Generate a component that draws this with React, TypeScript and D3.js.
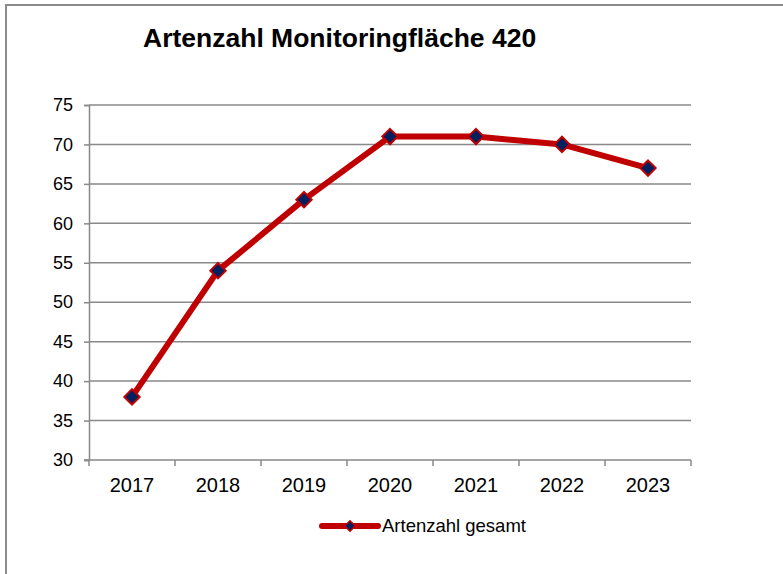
import { useEffect, useRef } from "react";
import * as d3 from "d3";

// ---- data ----
const years = ["2017", "2018", "2019", "2020", "2021", "2022", "2023"];
const artenzahl = [38, 54, 63, 71, 71, 70, 67];
const yTicks = [30, 35, 40, 45, 50, 55, 60, 65, 70, 75];
const title = "Artenzahl Monitoringfläche 420";
const seriesName = "Artenzahl gesamt";

const W = 783;
const H = 574;
const LINE = "#C00000";
const MARKER = "#002060";
const GRID = "#898989";
const FONT = "Liberation Sans, Arial, sans-serif";

export default function App() {
  const svgRef = useRef<SVGSVGElement>(null);

  useEffect(() => {
    const svg = d3.select(svgRef.current);
    svg.selectAll("*").remove();

    const plot = { left: 89, right: 691, top: 105, bottom: 460 };

    // outer chart border (only top/left visible in reference)
    svg.append("rect")
      .attr("x", 6).attr("y", 5)
      .attr("width", W + 10).attr("height", H)
      .attr("fill", "white").attr("stroke", "#8c8c8c").attr("stroke-width", 2);

    svg.append("text")
      .attr("x", 143).attr("y", 47)
      .attr("font-family", FONT)
      .attr("font-weight", "bold").attr("font-size", 26.5)
      .attr("fill", "#000")
      .text(title);

    const x = d3.scaleBand().domain(years).range([plot.left, plot.right]);
    const y = d3.scaleLinear().domain([30, 75]).range([plot.bottom, plot.top]);

    // horizontal gridlines
    svg.append("g").selectAll("line")
      .data(yTicks.filter(t => t !== 30))
      .join("line")
      .attr("x1", plot.left).attr("x2", plot.right)
      .attr("y1", d => y(d)).attr("y2", d => y(d))
      .attr("stroke", GRID).attr("stroke-width", 1.5);

    // y axis
    const yAxis = svg.append("g")
      .attr("transform", `translate(${plot.left},0)`)
      .call(d3.axisLeft(y).tickValues(yTicks).tickSize(5).tickPadding(11).tickFormat(d3.format("d")));
    yAxis.select(".domain").attr("stroke", GRID).attr("stroke-width", 1.5);
    yAxis.selectAll(".tick line").attr("stroke", GRID).attr("stroke-width", 1.5);
    yAxis.selectAll(".tick text")
      .attr("font-family", FONT)
      .attr("font-size", 18).attr("fill", "#000");

    // x axis with ticks on band boundaries
    const xAxisG = svg.append("g").attr("transform", `translate(0,${plot.bottom})`);
    xAxisG.append("line")
      .attr("x1", plot.left - 5).attr("x2", plot.right)
      .attr("stroke", GRID).attr("stroke-width", 1.5);
    const bounds = years.map(d => x(d)!).concat([plot.right]);
    xAxisG.selectAll("line.tk")
      .data(bounds)
      .join("line")
      .attr("class", "tk")
      .attr("x1", d => d).attr("x2", d => d)
      .attr("y1", 0).attr("y2", 6)
      .attr("stroke", GRID).attr("stroke-width", 1.5);
    xAxisG.selectAll("text")
      .data(years)
      .join("text")
      .attr("x", d => x(d)! + x.bandwidth() / 2)
      .attr("y", 32)
      .attr("text-anchor", "middle")
      .attr("font-family", FONT)
      .attr("font-size", 20).attr("fill", "#000")
      .text(d => d);

    // series line
    const pts = years.map((yr, i) => ({ x: x(yr)! + x.bandwidth() / 2, y: y(artenzahl[i]) }));
    svg.append("path")
      .datum(pts)
      .attr("fill", "none")
      .attr("stroke", LINE).attr("stroke-width", 6)
      .attr("stroke-linejoin", "round").attr("stroke-linecap", "round")
      .attr("d", d3.line<{ x: number; y: number }>().x(d => d.x).y(d => d.y));

    const diamond = d3.symbol().type(d3.symbolDiamond2).size(150);
    svg.selectAll("path.mk")
      .data(pts)
      .join("path")
      .attr("class", "mk")
      .attr("transform", d => `translate(${d.x},${d.y})`)
      .attr("d", diamond)
      .attr("fill", MARKER).attr("stroke", LINE).attr("stroke-width", 2);

    // legend
    const lg = svg.append("g").attr("transform", "translate(0,526)");
    lg.append("line")
      .attr("x1", 322).attr("x2", 378)
      .attr("stroke", LINE).attr("stroke-width", 6).attr("stroke-linecap", "round");
    lg.append("path")
      .attr("transform", "translate(350,0)")
      .attr("d", d3.symbol().type(d3.symbolDiamond2).size(70)())
      .attr("fill", MARKER).attr("stroke", LINE).attr("stroke-width", 1.5);
    lg.append("text")
      .attr("x", 382).attr("y", 6)
      .attr("font-family", FONT)
      .attr("font-size", 18.5).attr("fill", "#000")
      .text(seriesName);
  }, []);

  return (
    <svg
      ref={svgRef}
      width={W}
      height={H}
      style={{ position: "absolute", left: 0, top: 0, display: "block" }}
    />
  );
}
